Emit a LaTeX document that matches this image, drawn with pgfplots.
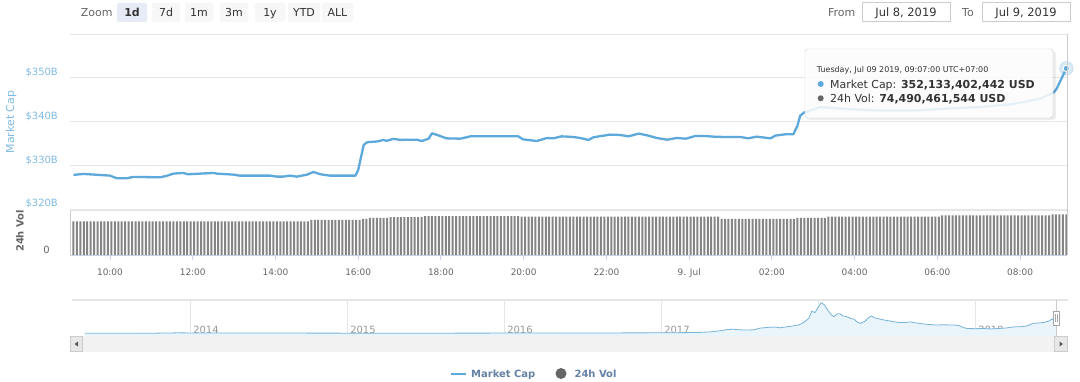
\documentclass[border=0pt]{standalone}
\usepackage{fontspec}
\setmainfont{DejaVu Sans}
\usepackage{pgfplots}
\pgfplotsset{compat=1.18}
\definecolor{mcline}{HTML}{5DA9DB}
\definecolor{mclab}{HTML}{7FBBE3}
\definecolor{gridc}{HTML}{E6E6E6}
\definecolor{axc}{HTML}{CCD6EB}
\definecolor{txtgray}{HTML}{666666}
\definecolor{txtdark}{HTML}{333333}
\definecolor{volbar}{HTML}{858585}
\definecolor{legtxt}{HTML}{6481A6}
\definecolor{navfill}{HTML}{EAF4FB}
\definecolor{navline}{HTML}{78B4DA}
\definecolor{btn}{HTML}{F7F7F7}
\definecolor{btnsel}{HTML}{E6EBF5}
\definecolor{bordc}{HTML}{CCCCCC}
\begin{document}
\begin{tikzpicture}[x=1bp,y=1bp]
\useasboundingbox (0,0) rectangle (1080,381);
\fill[white] (0,0) rectangle (1080,381);

% ---------- toolbar ----------
\node[anchor=base, inner sep=0, font=\fontsize{11}{13}\selectfont, text=txtgray] at (96.7,364.3) {Zoom};
\fill[btnsel, rounded corners=2] (117,359) rectangle (147,378);
\node[anchor=base, inner sep=0, font=\bfseries\fontsize{11}{13}\selectfont, text=txtdark] at (132,364.3) {1d};
\foreach \a/\b/\t in {152/180/7d,185/213/1m,220/248/3m,255/285/1y,288/320/YTD,322/353/ALL}{
  \fill[btn, rounded corners=2] (\a,359) rectangle (\b,378);
  \node[anchor=base, inner sep=0, font=\fontsize{11}{13}\selectfont, text=txtdark] at ({(\a+\b)/2},364.3) {\t};
}
\node[anchor=base, inner sep=0, font=\fontsize{11}{13}\selectfont, text=txtgray] at (841.7,364.5) {From};
\draw[bordc] (862,360) rectangle (950,379);
\node[anchor=base, inner sep=0, font=\fontsize{11.5}{13}\selectfont, text=txtdark] at (906,364.5) {Jul 8, 2019};
\node[anchor=base, inner sep=0, font=\fontsize{11}{13}\selectfont, text=txtgray] at (968,364.5) {To};
\draw[bordc] (982,360) rectangle (1070,379);
\node[anchor=base, inner sep=0, font=\fontsize{11.5}{13}\selectfont, text=txtdark] at (1026,364.5) {Jul 9, 2019};

% ---------- axis titles ----------
\node[rotate=90, inner sep=0, font=\fontsize{11}{13}\selectfont, text=mclab] at (11,259) {Market Cap};
\node[rotate=90, inner sep=0, font=\bfseries\fontsize{10}{12}\selectfont, text=txtgray] at (20,150) {24h Vol};

% ---------- main market cap axis ----------
\begin{axis}[
  at={(70bp,172bp)}, anchor=south west, scale only axis,
  width=997bp, height=175bp,
  xmin=542, xmax=1988, ymin=320, ymax=360,
  axis line style={draw=none},
  xtick=\empty,
  ytick={320,330,340,350,360},
  yticklabels={\$320B,\$330B,\$340B,\$350B,{}},
  ymajorgrids, grid style={gridc, line width=0.9bp},
  major tick length=0pt,
  yticklabel style={anchor=base east, inner sep=0pt, xshift=-12bp, yshift=2bp,
    font=\fontsize{10}{12}\selectfont, text=mclab},
  clip=false,
]
\addplot[mcline, line width=2.3bp, line join=round] coordinates {
(547,327.79)(561,328.02)(600,327.63)(610,327.02)(624,327.02)(634,327.33)(673,327.25)
(682,327.56)(692,328.09)(706,328.24)(713,327.94)(750,328.24)(755,328.09)(779,327.86)
(788,327.63)(832,327.63)(842,327.40)(851,327.40)(861,327.63)(871,327.40)(886,327.86)
(895,328.47)(905,327.94)(919,327.63)(956,327.63)(960,328.93)(968,334.66)(973,335.27)
(987,335.42)(997,335.80)(1001,335.57)(1011,336.03)(1021,335.80)(1045,335.84)(1052,335.54)
(1062,336.07)(1067,337.30)(1076,336.84)(1088,336.15)(1108,336.07)(1123,336.61)(1192,336.61)
(1199,335.92)(1219,335.54)(1234,336.23)(1243,336.15)(1255,336.61)(1272,336.46)(1282,336.23)
(1294,335.77)(1301,336.38)(1313,336.69)(1325,337.00)(1340,336.92)(1352,336.61)(1367,337.23)
(1379,336.84)(1393,336.23)(1408,335.84)(1422,336.23)(1435,336.07)(1449,336.69)(1463,336.69)
(1475,336.54)(1490,336.46)(1514,336.46)(1526,336.15)(1538,336.54)(1558,336.15)(1565,336.77)
(1579,337.07)(1591,337.07)(1597,339.00)(1601,341.30)(1606,341.98)(1630,343.30)(1674,342.80)
(1717,342.50)(1765,342.50)(1819,343.00)(1862,343.30)(1910,344.00)(1949,345.20)(1969,346.70)
(1973,347.50)(1981,350.15)(1987,352.13)};
\addplot[only marks, mark=*, mark size=7bp, mcline, opacity=0.25] coordinates {(1987,352.13)};
\addplot[only marks, mark=*, mark size=3.2bp, fill=mcline, draw=white, line width=1bp] coordinates {(1987,352.13)};
\end{axis}

% ---------- volume axis ----------
\begin{axis}[
  at={(70bp,126bp)}, anchor=south west, scale only axis,
  width=997bp, height=45bp,
  xmin=542, xmax=1988, ymin=0, ymax=82.6,
  axis line style={draw=none},
  xtick={600,720,840,960,1080,1200,1320,1440,1560,1680,1800,1920},
  xticklabels={10:00,12:00,14:00,16:00,18:00,20:00,22:00,9. Jul,02:00,04:00,06:00,08:00},
  xtick pos=left, tick align=outside, major tick length=5bp,
  xtick style={axc, line width=0.9bp},
  xticklabel style={anchor=base, inner sep=0pt, yshift=-15bp,
    font=\fontsize{9}{11}\selectfont, text=txtgray},
  ytick={0}, yticklabels={0}, ytick style={draw=none},
  yticklabel style={anchor=base east, inner sep=0pt, xshift=-15bp, yshift=2bp,
    font=\fontsize{10}{12}\selectfont, text=txtgray},
  clip=false,
]
\draw[axc, line width=0.9bp] (rel axis cs:0,0) -- (rel axis cs:1,0);
\draw[bordc, line width=0.9bp] (rel axis cs:0,0) -- (rel axis cs:0,1);
\draw[gridc, line width=1.2bp] (rel axis cs:0,1) -- (rel axis cs:1,1);
\addplot[ybar, bar width=2bp, fill=volbar, draw=none] coordinates {
(547,61.8)(552,61.8)(557,61.8)(562,61.8)(567,61.8)(572,61.8)(577,61.8)(582,61.8)(587,61.8)(592,61.8)
(597,61.8)(602,61.8)(607,61.8)(612,61.8)(617,61.8)(622,61.8)(627,61.8)(632,61.8)(637,61.8)(642,61.8)
(647,61.8)(652,61.8)(657,61.8)(662,61.8)(667,61.8)(672,61.8)(677,61.8)(682,61.8)(687,61.8)(692,61.8)
(697,61.8)(702,61.8)(707,61.8)(712,61.8)(717,61.8)(722,61.8)(727,61.8)(732,61.8)(737,61.8)(742,61.8)
(747,61.8)(752,61.8)(757,61.8)(762,61.8)(767,61.8)(772,61.8)(777,61.8)(782,61.8)(787,61.8)(792,61.8)
(797,61.8)(802,61.8)(807,61.8)(812,61.8)(817,61.8)(822,61.8)(827,61.8)(832,61.8)(837,61.8)(842,61.8)
(847,61.8)(852,61.8)(857,61.8)(862,61.8)(867,61.8)(872,61.8)(877,61.8)(882,61.8)(887,61.8)
(892,64.4)(897,64.4)(902,64.4)(907,64.4)(912,64.4)(917,64.4)(922,64.4)(927,64.4)(932,64.4)(937,64.4)
(942,64.4)(947,64.4)(952,64.4)(957,64.4)(962,64.4)
(967,66.2)(972,66.2)
(977,68.1)(982,68.1)(987,68.1)(992,68.1)(997,68.1)(1002,68.1)
(1007,69.4)(1012,69.4)(1017,69.4)(1022,69.4)(1027,69.4)(1032,69.4)(1037,69.4)(1042,69.4)(1047,69.4)(1052,69.4)
(1057,71.2)(1062,71.2)(1067,71.2)(1072,71.2)(1077,71.2)(1082,71.2)(1087,71.2)(1092,71.2)(1097,71.2)(1102,71.2)
(1107,71.2)(1112,71.2)(1117,71.2)(1122,71.2)(1127,71.2)(1132,71.2)(1137,71.2)(1142,71.2)(1147,71.2)(1152,71.2)
(1157,71.2)(1162,71.2)(1167,71.2)(1172,71.2)(1177,71.2)(1182,71.2)(1187,71.2)(1192,71.2)
(1197,70.6)(1202,70.6)(1207,70.6)(1212,70.6)(1217,70.6)(1222,70.6)(1227,70.6)(1232,70.6)(1237,70.6)(1242,70.6)
(1247,70.6)(1252,70.6)(1257,70.6)(1262,70.6)(1267,70.6)(1272,70.6)(1277,70.6)(1282,70.6)(1287,70.6)(1292,70.6)
(1297,70.6)(1302,70.6)(1307,70.6)(1312,70.6)(1317,70.6)(1322,70.6)(1327,70.6)(1332,70.6)(1337,70.6)(1342,70.6)
(1347,70.6)(1352,70.6)(1357,70.6)(1362,70.6)(1367,70.6)(1372,70.6)(1377,70.6)(1382,70.6)(1387,70.6)(1392,70.6)
(1397,70.6)(1402,70.6)(1407,70.6)(1412,70.6)(1417,70.6)(1422,70.6)(1427,70.6)(1432,70.6)(1437,70.6)(1442,70.6)
(1447,70.6)(1452,70.6)(1457,70.6)(1462,70.6)(1467,70.6)(1472,70.6)(1477,70.6)(1482,70.6)
(1487,66.2)(1492,66.2)(1497,66.2)(1502,66.2)(1507,66.2)(1512,66.2)(1517,66.2)(1522,66.2)(1527,66.2)(1532,66.2)
(1537,66.2)(1542,66.2)(1547,66.2)(1552,66.2)(1557,66.2)(1562,66.2)(1567,66.2)(1572,66.2)(1577,66.2)(1582,66.2)
(1587,66.2)(1592,66.2)
(1597,68.1)(1602,68.1)(1607,68.1)(1612,68.1)(1617,68.1)(1622,68.1)(1627,68.1)(1632,68.1)(1637,68.1)
(1642,70.6)(1647,70.6)(1652,70.6)(1657,70.6)(1662,70.6)(1667,70.6)(1672,70.6)(1677,70.6)(1682,70.6)(1687,70.6)
(1692,70.6)(1697,70.6)(1702,70.6)(1707,70.6)(1712,70.6)(1717,70.6)(1722,70.6)(1727,70.6)(1732,70.6)(1737,70.6)
(1742,70.6)(1747,70.6)(1752,70.6)(1757,70.6)(1762,70.6)(1767,70.6)(1772,70.6)(1777,70.6)(1782,70.6)(1787,70.6)
(1792,70.6)(1797,70.6)(1802,70.6)
(1807,72.5)(1812,72.5)(1817,72.5)(1822,72.5)(1827,72.5)(1832,72.5)(1837,72.5)(1842,72.5)(1847,72.5)(1852,72.5)
(1857,72.5)(1862,72.5)(1867,72.5)(1872,72.5)(1877,72.5)(1882,72.5)(1887,72.5)(1892,72.5)(1897,72.5)(1902,72.5)
(1907,72.5)(1912,72.5)(1917,72.5)(1922,72.5)(1927,72.5)(1932,72.5)(1937,72.5)(1942,72.5)(1947,72.5)(1952,72.5)
(1957,72.5)(1962,72.5)
(1967,74.5)(1972,74.5)(1977,74.5)(1982,74.5)(1987,74.5)};
\end{axis}

% crosshair
\draw[bordc, line width=0.9bp] (1067,347) -- (1067,126);

% ---------- tooltip ----------
\fill[black, opacity=0.07, rounded corners=3] (807,261) rectangle (1056,330);
\draw[draw=bordc, fill=white, fill opacity=0.85, rounded corners=3] (805,263) rectangle (1053,332);
\node[anchor=base west, inner sep=0, font=\fontsize{8}{10}\selectfont, text=txtdark] at (816.7,309) {Tuesday, Jul 09 2019, 09:07:00 UTC+07:00};
\fill[mcline] (820.7,297) circle (3);
\node[anchor=base west, inner sep=0, font=\fontsize{11}{13}\selectfont, text=txtdark] at (830,293) {Market Cap: \textbf{352,133,402,442 USD}};
\fill[txtgray] (820.7,282.7) circle (3);
\node[anchor=base west, inner sep=0, font=\fontsize{11}{13}\selectfont, text=txtdark] at (830,279) {24h Vol: \textbf{74,490,461,544 USD}};

% ---------- navigator ----------
\begin{axis}[
  at={(72bp,45bp)}, anchor=south west, scale only axis,
  width=996bp, height=36bp,
  xmin=2013.248, xmax=2019.592, ymin=-73, ymax=902,
  axis line style={draw=none},
  ytick=\empty,
  xtick={2014,2015,2016,2017,2018,2019},
  xticklabels={2014,2015,2016,2017,2018,2019},
  xmajorgrids, grid style={gridc, line width=0.8bp},
  major tick length=0pt,
  xticklabel style={anchor=base west, inner sep=0pt, xshift=3bp, yshift=2.7bp,
    font=\fontsize{10}{12}\selectfont, text=gray!80},
]
\addplot[draw=none, fill=navfill] coordinates {
(2013.33,-73)(2013.33,1.5)(2013.45,1.3)(2013.6,1.2)(2013.75,2)(2013.85,8)(2013.92,13)(2014.0,10)(2014.1,9)
(2014.2,7)(2014.35,6)(2014.45,8)(2014.6,7)(2014.8,5)(2015.0,4)(2015.2,3.5)(2015.5,3.8)(2015.8,4.5)
(2015.95,6)(2016.2,6.5)(2016.45,10)(2016.6,10)(2016.9,12)(2017.0,16)(2017.15,18)(2017.25,25)(2017.32,40)
(2017.38,70)(2017.42,100)(2017.46,110)(2017.50,95)(2017.55,88)(2017.59,95)(2017.63,140)(2017.68,160)
(2017.72,170)(2017.76,150)(2017.80,175)(2017.84,200)(2017.88,230)(2017.91,300)(2017.94,400)(2017.96,600)
(2017.98,560)(2018.0,700)(2018.02,830)(2018.04,770)(2018.06,640)(2018.08,520)(2018.10,450)(2018.12,520)
(2018.14,530)(2018.16,470)(2018.18,455)(2018.21,400)(2018.23,380)(2018.25,300)(2018.27,270)(2018.30,330)
(2018.32,420)(2018.34,470)(2018.36,420)(2018.38,400)(2018.42,360)(2018.45,340)(2018.48,315)(2018.52,290)
(2018.56,290)(2018.58,310)(2018.61,290)(2018.65,265)(2018.69,245)(2018.75,225)(2018.80,230)(2018.85,225)
(2018.88,220)(2018.90,205)(2018.93,150)(2018.95,130)(2019.0,125)(2019.05,130)(2019.10,118)(2019.15,130)
(2019.20,145)(2019.25,175)(2019.29,178)(2019.33,200)(2019.37,270)(2019.41,280)(2019.44,295)(2019.47,330)
(2019.49,390)(2019.50,360)(2019.52,352)(2019.52,-73)} -- cycle;
\addplot[navline, line width=0.8bp] coordinates {
(2013.33,1.5)(2013.45,1.3)(2013.6,1.2)(2013.75,2)(2013.85,8)(2013.92,13)(2014.0,10)(2014.1,9)
(2014.2,7)(2014.35,6)(2014.45,8)(2014.6,7)(2014.8,5)(2015.0,4)(2015.2,3.5)(2015.5,3.8)(2015.8,4.5)
(2015.95,6)(2016.2,6.5)(2016.45,10)(2016.6,10)(2016.9,12)(2017.0,16)(2017.15,18)(2017.25,25)(2017.32,40)
(2017.38,70)(2017.42,100)(2017.46,110)(2017.50,95)(2017.55,88)(2017.59,95)(2017.63,140)(2017.68,160)
(2017.72,170)(2017.76,150)(2017.80,175)(2017.84,200)(2017.88,230)(2017.91,300)(2017.94,400)(2017.96,600)
(2017.98,560)(2018.0,700)(2018.02,830)(2018.04,770)(2018.06,640)(2018.08,520)(2018.10,450)(2018.12,520)
(2018.14,530)(2018.16,470)(2018.18,455)(2018.21,400)(2018.23,380)(2018.25,300)(2018.27,270)(2018.30,330)
(2018.32,420)(2018.34,470)(2018.36,420)(2018.38,400)(2018.42,360)(2018.45,340)(2018.48,315)(2018.52,290)
(2018.56,290)(2018.58,310)(2018.61,290)(2018.65,265)(2018.69,245)(2018.75,225)(2018.80,230)(2018.85,225)
(2018.88,220)(2018.90,205)(2018.93,150)(2018.95,130)(2019.0,125)(2019.05,130)(2019.10,118)(2019.15,130)
(2019.20,145)(2019.25,175)(2019.29,178)(2019.33,200)(2019.37,270)(2019.41,280)(2019.44,295)(2019.47,330)
(2019.49,390)(2019.50,360)(2019.52,352)};
\end{axis}
\draw[gridc, line width=1.6bp] (72,81) -- (1068,81);
\draw[bordc, line width=0.8bp] (1056,81) -- (1056,45);
\draw[gray!70, fill=white, line width=0.8bp] (1053,56) rectangle (1059,70);
\draw[gray!70, line width=0.6bp] (1055,59) -- (1055,67) (1057,59) -- (1057,67);

% ---------- scrollbar ----------
\fill[gray!10] (70,29) rectangle (1068,45);
\draw[bordc, fill=gray!18] (70.5,29.5) rectangle (82,44.5);
\fill[gray!70!black] (74.5,37) -- (78,39.5) -- (78,34.5) -- cycle;
\draw[bordc, fill=gray!18] (1054,29.5) rectangle (1067.5,44.5);
\fill[gray!70!black] (1063,37) -- (1059.5,39.5) -- (1059.5,34.5) -- cycle;

% ---------- legend ----------
\draw[mcline, line width=2bp] (451,7) -- (466,7);
\node[anchor=base west, inner sep=0, font=\bfseries\fontsize{10}{12}\selectfont, text=legtxt] at (471,4) {Market Cap};
\fill[txtgray] (561,7.5) circle (5.5);
\node[anchor=base west, inner sep=0, font=\bfseries\fontsize{10}{12}\selectfont, text=legtxt] at (574.4,4) {24h Vol};
\end{tikzpicture}
\end{document}
